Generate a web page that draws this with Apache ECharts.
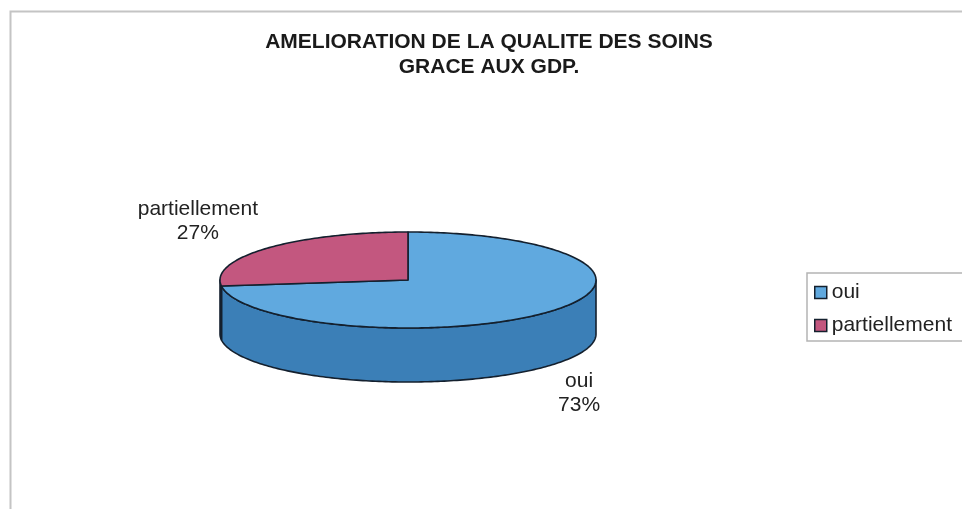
<!DOCTYPE html>
<html>
<head>
  <meta charset="utf-8">
  <title>Amelioration de la qualite des soins</title>
  <script src="https://cdn.jsdelivr.net/npm/echarts@6/dist/echarts.min.js"></script>
  <style>
    html, body { margin: 0; padding: 0; background: #fff; }
    #chart { width: 962px; height: 509px; }
  </style>
</head>
<body>
<div id="chart"></div>
<script type="text/javascript">
// data
var categories = ['oui', 'partiellement'];
var values = [73, 27];
var topColors = ['#60a9df', '#c3577f'];
var sideColors = ['#3b7fb7', '#963e61'];

var FONT = "'Liberation Sans', Arial, sans-serif";
var LABEL_SIZE = 21;

// 3d pie layout (pixels)
var cx = 408, cy = 280, rx = 188, ry = 48, depth = 54;

var total = values.reduce(function (a, b) { return a + b; }, 0);
var starts = [];
var acc = 0;
for (var i = 0; i < values.length; i++) { starts.push(acc); acc += values[i]; }

var measureCtx = document.createElement('canvas').getContext('2d');
measureCtx.font = LABEL_SIZE + 'px ' + FONT;

function pt(deg, dy) {
  var r = deg * Math.PI / 180;
  return [cx + rx * Math.sin(r), cy - ry * Math.cos(r) + (dy || 0)];
}

function arc(a, b, dy) {
  var pts = [];
  var n = Math.max(2, Math.ceil(Math.abs(b - a)));
  for (var k = 0; k <= n; k++) pts.push(pt(a + (b - a) * k / n, dy));
  return pts;
}

function renderSlice(params, api) {
  var idx = params.seriesIndex;
  var a = api.value(0) / total * 360;
  var b = (api.value(0) + api.value(1)) / total * 360;
  var children = [];

  // front wall, only the part facing the viewer (90..270 deg)
  var s = Math.max(a, 90), e = Math.min(b, 270);
  if (s < e) {
    var wall = arc(s, e, 0).concat(arc(e, s, depth));
    children.push({
      type: 'polygon', z2: 1,
      shape: { points: wall },
      style: { fill: sideColors[idx], stroke: '#14202e', lineWidth: 1.6, lineJoin: 'round' }
    });
  }

  // top face
  children.push({
    type: 'polygon', z2: 10,
    shape: { points: [[cx, cy]].concat(arc(a, b, 0)) },
    style: { fill: topColors[idx], stroke: '#14202e', lineWidth: 1.6, lineJoin: 'round' }
  });

  // label outside the slice, on its middle angle
  var m = (a + b) / 2 * Math.PI / 180;
  var sx = Math.sin(m), cyDir = -Math.cos(m);
  var ax = cx + (rx + 12) * sx;
  var ay = cy + (ry + 8) * cyDir + (cyDir > 0 ? depth : 0);
  var pct = Math.round(api.value(1) / total * 100) + '%';
  var name = categories[idx];
  var w = Math.max(measureCtx.measureText(name).width, measureCtx.measureText(pct).width);
  children.push({
    type: 'text', z2: 20,
    x: ax + (sx < 0 ? -w / 2 : w / 2),
    y: ay + (cyDir < 0 ? 2 : -2),
    style: {
      text: name + '\n' + pct,
      font: LABEL_SIZE + 'px ' + FONT,
      fill: '#222',
      align: 'center',
      verticalAlign: cyDir < 0 ? 'bottom' : 'top',
      lineHeight: 24
    }
  });

  return { type: 'group', children: children };
}

var series = categories.map(function (name, i) {
  return {
    name: name,
    type: 'custom',
    coordinateSystem: 'none',
    itemStyle: { color: topColors[i] },
    renderItem: renderSlice,
    data: [[starts[i], values[i]]],
    animation: false,
    silent: true
  };
});

var myChart = echarts.init(document.getElementById('chart'));
var option = {
  backgroundColor: '#fff',
  title: {
    text: 'AMELIORATION DE LA QUALITE DES SOINS\nGRACE AUX GDP.',
    left: 484,
    top: 25,
    textAlign: 'center',
    textStyle: {
      fontFamily: FONT,
      fontSize: 21,
      fontWeight: 'bold',
      color: '#1a1a1a',
      lineHeight: 25
    }
  },
  legend: {
    orient: 'vertical',
    left: 807,
    top: 273,
    padding: [9, 30, 5, 7],
    itemGap: 12,
    itemWidth: 12,
    itemHeight: 12,
    icon: 'rect',
    borderColor: '#b4b4b4',
    borderWidth: 1.5,
    borderRadius: 0,
    data: categories,
    itemStyle: { borderColor: '#14202e', borderWidth: 1.5 },
    textStyle: { fontFamily: FONT, fontSize: LABEL_SIZE, color: '#222' },
    selectedMode: false
  },
  graphic: [{
    type: 'rect',
    shape: { x: 10.5, y: 11.5, width: 990, height: 540 },
    style: { fill: 'none', stroke: '#c4c4c4', lineWidth: 2 },
    silent: true,
    z: -1
  }],
  series: series
};
myChart.setOption(option);
</script>
</body>
</html>
